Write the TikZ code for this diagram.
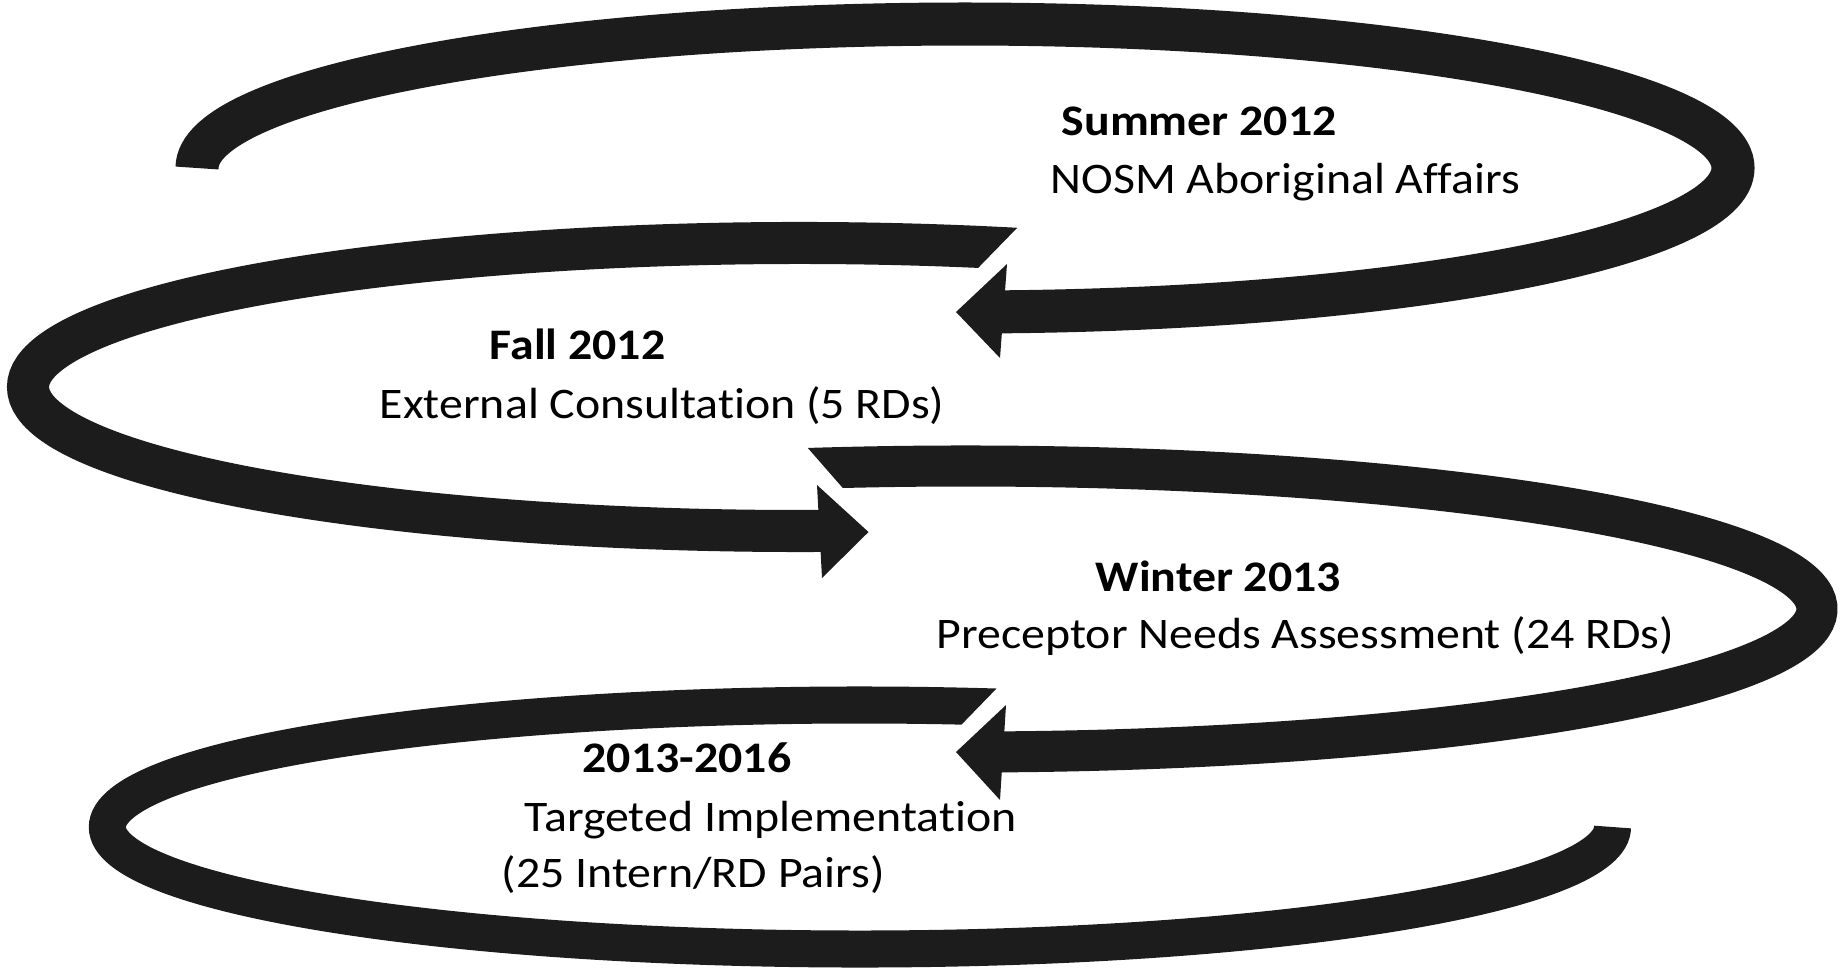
\documentclass[tikz,border=0pt]{standalone}
\usepackage{fontspec}
\setmainfont{Carlito}[FakeStretch=1.097, Ligatures=NoCommon]
\usepackage{xcolor}
\definecolor{ribbon}{RGB}{28,28,28}

\begin{document}
\begin{tikzpicture}[x=0.01cm, y=-0.01cm,
    every node/.style={font=\fontsize{12.4}{15}\selectfont, inner sep=0pt, anchor=base west},
    stage/.style={font=\fontsize{12.4}{15}\selectfont\bfseries},
    band/.style={draw=ribbon, line cap=butt},
    tip/.style={fill=ribbon}]

% Canvas
\useasboundingbox (0,0) rectangle (1843,969);

% Centres of the loops
\coordinate (c1) at (965,168);
\coordinate (c2) at (800,387);
\coordinate (c3) at (965,609);
\coordinate (c4) at (860,827);

% Loop 4 (2013-2016)
\begin{scope}
\clip (0,0) -- (1843,0) -- (1843,600) -- (1082.5,600) -- (927.1,760) -- (1843,760) -- (1843,969) -- (0,969) -- cycle;
\draw[band, line width=3.7mm] (c4) ++(283:752.5 and 122) arc[start angle=283, end angle=0, x radius=752.5, y radius=122];
\end{scope}

% Loop 3 (Winter 2013)
\begin{scope}
\clip (0,0) -- (1843,0) -- (1843,969) -- (0,969) -- (0,510) -- (862,510) -- (765.9,400) -- (0,400) -- cycle;
\draw[band, line width=4.1mm] (c3) ++(257.5:852 and 143) arc[start angle=257.5, end angle=448.2, x radius=852, y radius=143];
\end{scope}
\fill[tip] (1006,705) -- (956,752) -- (1000,800) -- cycle;

% Loop 2 (Fall 2012)
\begin{scope}
\clip (0,0) -- (1843,0) -- (1843,150) -- (1093,150) -- (956.6,290) -- (1843,290) -- (1843,969) -- (0,969) -- cycle;
\draw[band, line width=4.2mm] (c2) ++(287:772 and 144) arc[start angle=287, end angle=87.8, x radius=772, y radius=144];
\end{scope}
\fill[tip] (817,485) -- (868.5,532) -- (822,578) -- cycle;

% Loop 1 (Summer 2012)
\draw[band, line width=4.3mm] (c1) ++(180:768 and 144) arc[start angle=180, end angle=447.8, x radius=768, y radius=144];
\fill[tip] (1007,264) -- (956,312) -- (1000,358) -- cycle;

% Labels
\node[stage] (summer) at (1061,135) {Summer 2012};
\node (nosm) at (1050,193) {NOSM Aboriginal Affairs};
\node[stage] (fall) at (489,359) {Fall 2012};
\node (external) at (379,418) {External Consultation (5 RDs)};
\node[stage] (winter) at (1095,591) {Winter 2013};
\node (preceptor) at (936,648) {Preceptor Needs Assessment (24 RDs)};
\node[stage] (period) at (582,772) {2013-2016};
\node (targeted) at (524,831) {Targeted Implementation};
\node (pairs) at (501,887) {(25 Intern/RD Pairs)};

\end{tikzpicture}
\end{document}
